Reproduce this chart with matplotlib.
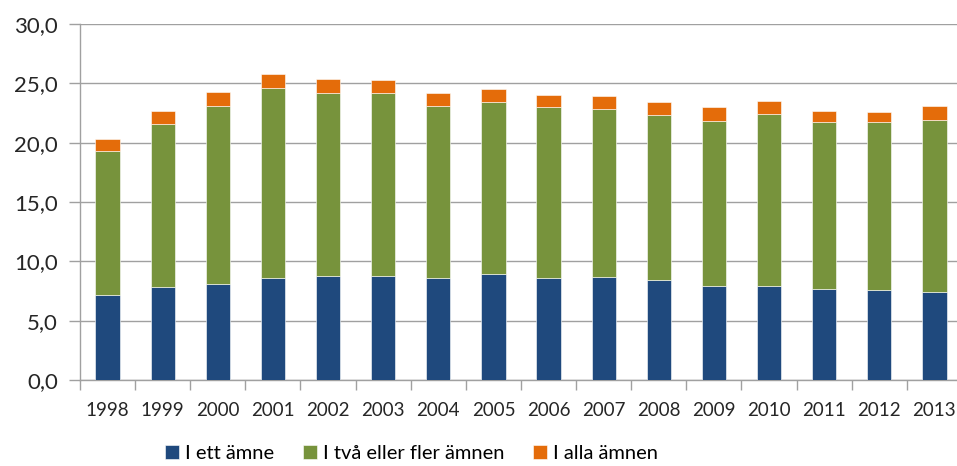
import matplotlib.pyplot as plt
import numpy as np
from matplotlib.ticker import FuncFormatter

# Data (cumulative tops, then converted to segments)
years = ['1998', '1999', '2000', '2001', '2002', '2003', '2004', '2005',
         '2006', '2007', '2008', '2009', '2010', '2011', '2012', '2013']
ett_amne = [7.2, 7.8, 8.1, 8.6, 8.8, 8.8, 8.6, 8.9,
            8.6, 8.7, 8.4, 7.9, 7.9, 7.7, 7.6, 7.4]
tva_eller_fler = [12.1, 13.8, 15.0, 16.0, 15.4, 15.4, 14.5, 14.5,
                  14.4, 14.1, 13.9, 13.9, 14.5, 14.0, 14.1, 14.5]
alla_amnen = [1.0, 1.1, 1.2, 1.2, 1.2, 1.1, 1.1, 1.1,
              1.0, 1.1, 1.1, 1.2, 1.1, 1.0, 0.9, 1.2]
labels = ['I ett ämne', 'I två eller fler ämnen', 'I alla ämnen']
colors = ['#1F497D', '#77933C', '#E46C0A']

plt.rcParams['font.family'] = ['Lato', 'DejaVu Sans']

fig = plt.figure(figsize=(9.57, 4.66), dpi=100)
ax = fig.add_axes([0.0836, 0.1845, 0.9216, 0.764])

x = np.arange(len(years))
bottom = np.zeros(len(years))
for vals, lab, col in zip([ett_amne, tva_eller_fler, alla_amnen], labels, colors):
    ax.bar(x, vals, width=0.44, bottom=bottom, color=col, label=lab,
           edgecolor='white', linewidth=0.4, zorder=3)
    bottom += np.array(vals)

ax.set_xlim(-0.5, len(years) - 0.5)
ax.set_ylim(0, 30)
ax.set_yticks(np.arange(0, 31, 5))
ax.yaxis.set_major_formatter(FuncFormatter(lambda v, p: f'{v:.1f}'.replace('.', ',')))
ax.grid(axis='y', color='#A0A0A0', linewidth=1.0, zorder=0)

ax.set_xticks(x)
ax.set_xticklabels(years)
ax.set_xticks(np.arange(-0.5, len(years), 1), minor=True)
ax.tick_params(axis='x', which='major', length=0, pad=16, labelsize=13.5, colors='#262626')
ax.tick_params(axis='x', which='minor', length=7, color='#A0A0A0', width=1.0)
ax.tick_params(axis='y', length=8, color='#A0A0A0', width=1.0, labelsize=16,
               colors='#262626', pad=8)

for s in ['top', 'right']:
    ax.spines[s].set_visible(False)
for s in ['left', 'bottom']:
    ax.spines[s].set_color('#A0A0A0')
    ax.spines[s].set_linewidth(1.0)

fig.legend(loc='lower center', bbox_to_anchor=(0.43, -0.03), ncol=3, frameon=False,
           fontsize=14.5, handlelength=0.7, handleheight=0.7, handletextpad=0.3,
           columnspacing=1.4)

fig.savefig('out.png', dpi=100)
